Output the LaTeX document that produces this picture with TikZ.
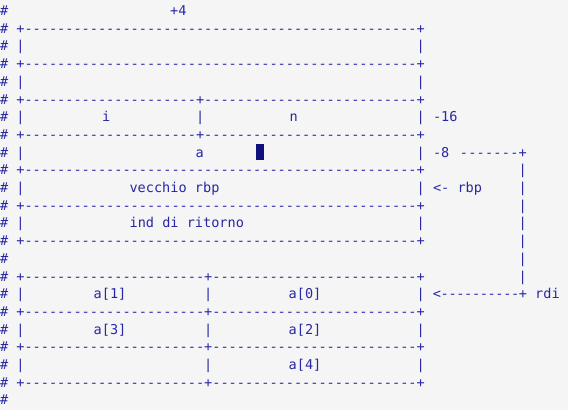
\documentclass[tikz,border=0pt]{standalone}
\usepackage{fontspec}
\setmonofont{DejaVu Sans Mono}
\definecolor{ink}{RGB}{40,40,165}
\definecolor{curs}{RGB}{15,15,125}
\definecolor{bg}{RGB}{245,245,245}
\ExplSyntaxOn
\cs_new:Npn \myrep #1#2 { \prg_replicate:nn {#1} {#2} }
\ExplSyntaxOff
\newcommand\yr[1]{15.5+17.7*#1}
\newcommand\fullrow{\#~+\myrep{48}{-}+}
\newcommand\emprow{\#~|\myrep{48}{~}|}
\newcommand\tsrow{\#~+\myrep{21}{-}+\myrep{26}{-}+}
\newcommand\tserow{\#~|\myrep{21}{~}|\myrep{26}{~}|}
\newcommand\bsrow{\#~+\myrep{22}{-}+\myrep{25}{-}+}
\newcommand\bserow{\#~|\myrep{22}{~}|\myrep{25}{~}|}
\begin{document}
\begin{tikzpicture}[x=1bp,y=-1bp,
  txt/.style={font=\ttfamily\fontsize{13.62pt}{13.62pt}\selectfont, text=ink, inner sep=0pt, outer sep=0pt},
  rowtxt/.style={txt, anchor=base west},
  lab/.style={txt, anchor=base}]
\fill[bg] (0,0) rectangle (568,410);
\useasboundingbox (0,0) rectangle (568,410);
% border rows
\foreach \r/\s in {0/\#, 1/\fullrow, 2/\emprow, 3/\fullrow, 4/\emprow, 5/\tsrow, 6/\tserow, 7/\tsrow,
  8/\emprow, 9/\fullrow, 10/\emprow, 11/\fullrow, 12/\emprow, 13/\fullrow, 14/\#,
  15/\bsrow, 16/\bserow, 17/\bsrow, 18/\bserow, 19/\bsrow, 20/\bserow, 21/\bsrow, 22/\#}
  \node[rowtxt] (row\r) at (0,\yr{\r}) {\s};
% labels
\node[lab] (plusfour) at (178.3,\yr{0}) {+4};
\node[lab] (li) at (106.3,\yr{6}) {i};
\node[lab] (ln) at (293.7,\yr{6}) {n};
\node[rowtxt] (m16) at (433,\yr{6}) {-16};
\node[lab] (la) at (199.7,\yr{8}) {a};
\node[fill=curs, inner sep=0pt, minimum width=8bp, minimum height=16.7bp, anchor=north west] (cursor) at (255.3,143.3) {};
\node[rowtxt] (m8) at (433,\yr{8}) {-8};
\foreach \k in {0,...,6}
  \node[lab] (d8\k) at ({464+8.39*\k},\yr{8}) {-};
\node[lab] (c8) at (522.7,\yr{8}) {+};
\foreach \r in {9,...,15}
  \node[lab] (v\r) at (522.7,\yr{\r}) {|};
\node[lab] (vr) at (174.5,\yr{10}) {vecchio rbp};
\node[rowtxt] (rbp) at (433,\yr{10}) {<-~rbp};
\node[lab] (ir) at (186.8,\yr{12}) {ind di ritorno};
\node[lab] (a1) at (110,\yr{16}) {a[1]};
\node[lab] (a0) at (305,\yr{16}) {a[0]};
\node[lab] (a3) at (110,\yr{18}) {a[3]};
\node[lab] (a2) at (305,\yr{18}) {a[2]};
\node[lab] (a4) at (305,\yr{20}) {a[4]};
\node[lab] (lt) at (437,\yr{16}) {<};
\foreach \k in {0,...,9}
  \node[lab] (d16\k) at ({444.8+7.82*\k},\yr{16}) {-};
\node[rowtxt] (rdi) at (518.9,\yr{16}) {+~rdi};
\end{tikzpicture}
\end{document}
